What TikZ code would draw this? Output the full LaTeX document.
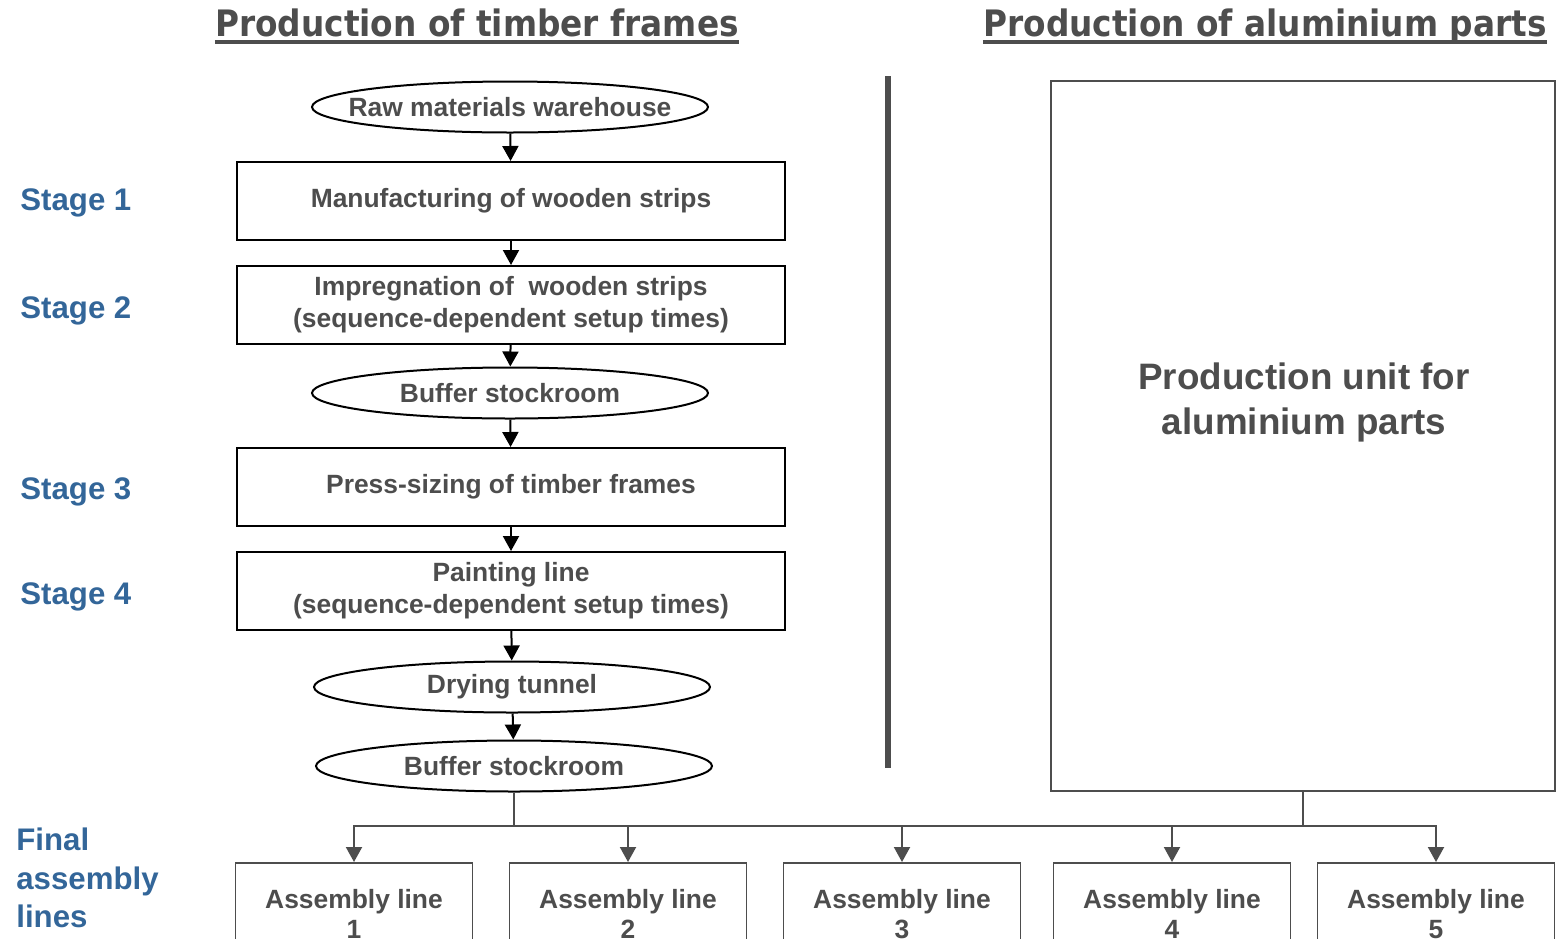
\documentclass[tikz,border=0pt]{standalone}
\usepackage{fontspec}
\setmainfont{Liberation Sans}
\newfontfamily\titlefont{DejaVu Sans Condensed}
\usetikzlibrary{shapes.geometric,arrows.meta}
\definecolor{txtgray}{HTML}{4D4D4D}
\definecolor{stageblue}{HTML}{336699}

\tikzset{
  box/.style={draw,line width=1pt,minimum width=274pt,minimum height=39pt,inner sep=0pt,align=center,text=txtgray,font=\bfseries\fontsize{13.2}{16}\selectfont},
  store/.style={ellipse,draw,line width=1pt,minimum width=198pt,minimum height=25.5pt,inner xsep=-22pt,inner ysep=0pt,text=txtgray,font=\bfseries\fontsize{13.2}{16}\selectfont},
  lineblock/.style={draw=txtgray,line width=0.8pt,anchor=north,minimum width=118.5pt,minimum height=51pt,inner sep=0pt,align=center,text=txtgray,font=\bfseries\fontsize{13.2}{15}\selectfont},
  stage/.style={anchor=west,inner sep=0pt,align=left,text=stageblue,font=\bfseries\fontsize{15.6}{19.3}\selectfont},
  heading/.style={anchor=base,inner sep=0pt,text=txtgray,font=\titlefont\bfseries\fontsize{18.2}{20}\selectfont},
  flow/.style={-{Triangle[length=7.5pt,width=8pt]},line width=1pt},
  feed/.style={-{Triangle[length=7.5pt,width=8pt]},line width=1pt,draw=txtgray}
}

\begin{document}
\begin{tikzpicture}[x=0.5pt,y=-0.5pt]
	\useasboundingbox (0,0) rectangle (1564,938);
	\clip (0,0) rectangle (1564,938);
	
	% headings
	\node[heading] (htimber) at (477,36) {Production of timber frames};
	\node[heading] (halu) at (1265,36) {Production of aluminium parts};
	\draw[txtgray,line width=1.7pt] ([yshift=-3pt]htimber.base west) -- ([yshift=-3pt]htimber.base east);
	\draw[txtgray,line width=1.7pt] ([yshift=-3pt]halu.base west) -- ([yshift=-3pt]halu.base east);
	
	% stages
	\node[stage] (st1) at (20,203) {Stage 1};
	\node[stage] (st2) at (20,311) {Stage 2};
	\node[stage] (st3) at (20,492) {Stage 3};
	\node[stage] (st4) at (20,597) {Stage 4};
	\node[stage] (stfin) at (16,878) {Final\\assembly\\lines};
	
	% timber column
	\node[store] (raw) at (510,107) {Raw materials warehouse};
	\node[box] (strips) at (511,201) {Manufacturing of wooden strips};
	\node[box] (impreg) at (511,305) {Impregnation of \ wooden strips\\(sequence-dependent setup times)};
	\node[store] (buf1) at (510,393) {Buffer stockroom};
	\node[box] (press) at (511,487) {Press-sizing of timber frames};
	\node[box] (paint) at (511,591) {Painting line\\(sequence-dependent setup times)};
	\node[store] (dry) at (512,687) {Drying tunnel};
	\node[store] (buf2) at (514,766) {Buffer stockroom};
	
	\draw[flow] (raw) -- (strips);
	\draw[flow] (strips) -- (impreg);
	\draw[flow] (impreg) -- (buf1);
	\draw[flow] (buf1) -- (press);
	\draw[flow] (press) -- (paint);
	\draw[flow] (paint) -- (dry);
	\draw[flow] (dry) -- (buf2);
	
	% divider
	\draw[txtgray,line width=3pt] (888,76) -- (888,768);
	
	% aluminium
	\node[draw=txtgray,line width=0.8pt,minimum width=252pt,minimum height=355pt] (alu) at (1303,436) {};
	\node[text=txtgray,align=center,font=\bfseries\fontsize{18.4}{22.5}\selectfont] (alutext) at (1304,402) {Production unit for\\aluminium parts};
	
	% assembly lines
	\node[lineblock] (al1) at (354,862) {Assembly line\\1};
	\node[lineblock] (al2) at (628,862) {Assembly line\\2};
	\node[lineblock] (al3) at (902,862) {Assembly line\\3};
	\node[lineblock] (al4) at (1172,862) {Assembly line\\4};
	\node[lineblock] (al5) at (1436,862) {Assembly line\\5};
	
	\coordinate (bus) at (512,826);
	\draw[txtgray,line width=1pt] (buf2.south) -- (buf2.south |- bus);
	\draw[txtgray,line width=1pt] (alu.south) -- (alu.south |- bus);
	\foreach \k in {1,...,5}
		\draw[feed] (bus) -| (al\k.north);
	
\end{tikzpicture}
\end{document}
